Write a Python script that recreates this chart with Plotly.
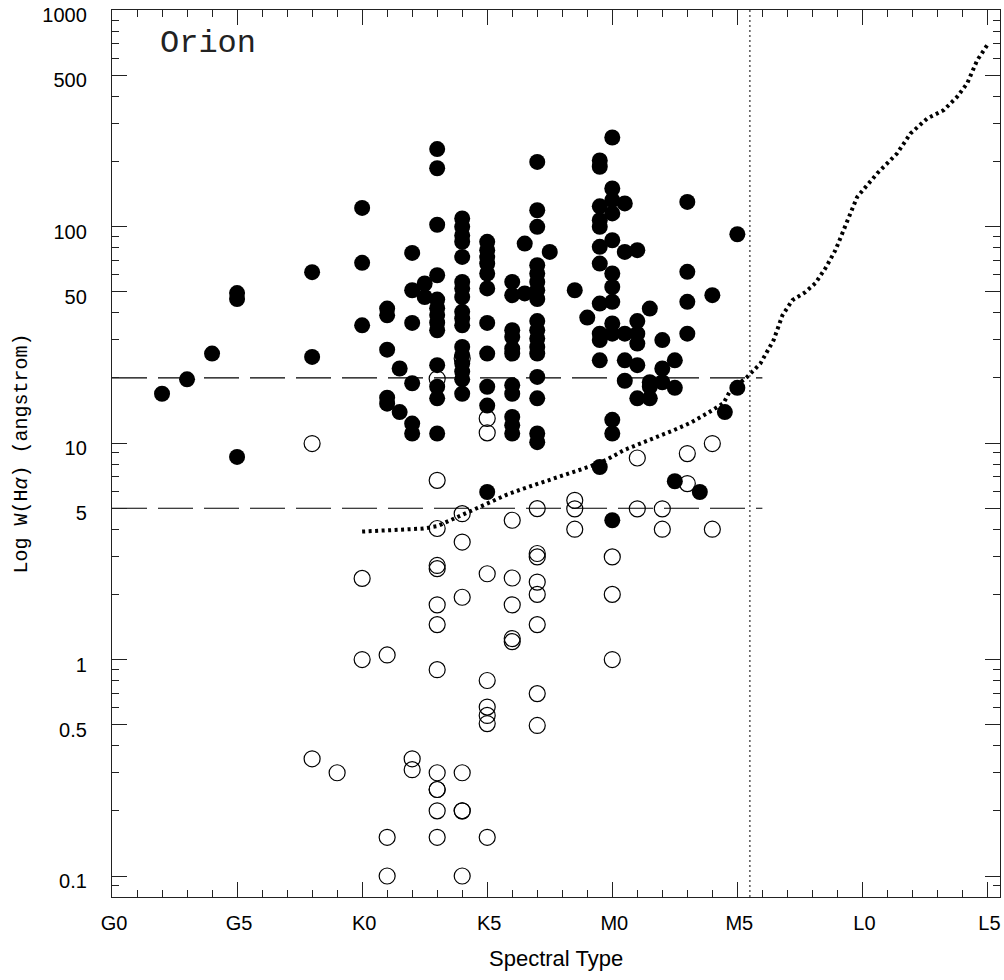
import plotly.graph_objects as go
import math

# ---------------- data ----------------
# spectral type as numeric subtype: G0=0, G5=5, K0=10, K5=15, M0=20, M5=25, L0=30, L5=35
tick_vals_x = [0, 5, 10, 15, 20, 25, 30, 35]
tick_text_x = ["G0", "G5", "K0", "K5", "M0", "M5", "L0", "L5"]

tick_vals_y = [0.1, 0.5, 1, 5, 10, 50, 100, 500, 1000]
tick_text_y = ["0.1", "0.5", "1", "5", "10", "50", "100", "500", "1000"]

# accreting (filled) stars: spectral subtype, W(Halpha)
filled_x = [2, 3, 4, 5, 5, 5, 8, 8,
            10, 10, 10,
            11, 11, 11, 11, 11,
            11.5, 11.5,
            12, 12, 12, 12, 12, 12,
            12.5, 12.5,
            13, 13, 13, 13, 13, 13, 13, 13, 13, 13, 13, 13, 13,
            14, 14, 14, 14, 14, 14, 14, 14, 14, 14, 14, 14, 14, 14, 14, 14, 14,
            15, 15, 15, 15, 15, 15, 15, 15, 15, 15, 15,
            16, 16, 16, 16, 16, 16, 16, 16, 16, 16, 16,
            16.5, 16.5,
            17, 17, 17, 17, 17, 17, 17, 17, 17, 17, 17, 17, 17, 17, 17, 17, 17,
            17.5, 18.5, 19,
            19.5, 19.5, 19.5, 19.5, 19.5, 19.5, 19.5, 19.5, 19.5, 19.5, 19.5, 19.5,
            20, 20, 20, 20, 20, 20, 20, 20, 20, 20, 20, 20, 20,
            20.5, 20.5, 20.5, 20.5, 20.5,
            21, 21, 21, 21, 21, 21,
            21.5, 21.5, 21.5, 21.5,
            22, 22, 22,
            22.5, 22.5, 22.5,
            23, 23, 23, 23,
            23.5, 24, 24.5, 25, 25]
filled_y = [16.9, 19.7, 25.9, 49.3, 46.3, 8.63, 61.6, 25.0,
            122, 68, 35,
            41.8, 38.9, 27.0, 16.2, 15.2,
            22.1, 13.9,
            75.6, 50.8, 35.9, 18.9, 12.3, 11.07,
            54.6, 47.3,
            228, 186, 102, 59.6, 46, 42, 39, 36, 33.2, 22.9, 18.2, 16.1, 11.07,
            109, 99.7, 91, 85, 72.4, 55.5, 51.8, 47.3, 40.4, 37.6, 35.0, 27.8, 25.5, 23.3, 21.4, 19.7, 16.9,
            85, 77.8, 72.4, 67.5, 60.7, 51.8, 35.9, 25.9, 18.2, 14.9, 5.94,
            55.5, 48.2, 33.2, 30.9, 27.3, 25.9, 18.5, 16.9, 13.2, 12.1, 11.07,
            83.5, 49.1,
            199, 119, 99.7, 66.3, 60.7, 55.5, 50.8, 46.3, 36.6, 33.2, 30.4, 27.8, 25.9, 20.2, 16.1, 11.07, 10.1,
            76.4, 50.8, 38.0,
            202, 189, 124, 107, 99.7, 80.6, 67.5, 44.1, 32.0, 29.9, 24.1, 7.75,
            258, 150, 132.5, 115, 86.5, 60.7, 52.6, 44.9, 35.7, 32.0, 12.8, 11.07, 4.40,
            128, 76.4, 32.0, 24.1, 19.4,
            77.8, 36.6, 32.0, 28.8, 22.9, 16.1,
            41.8, 19.1, 18.2, 16.1,
            29.9, 22.1, 19.1,
            24.1, 18.0, 6.66,
            130, 61.8, 44.9, 32.0,
            5.94, 48.2, 13.9, 92.2, 18.0]

# non-accreting (open) stars
open_x = [8, 8, 9,
          10, 10,
          11, 11, 11,
          12, 12,
          13, 13, 13, 13, 13, 13, 13, 13, 13, 13, 13, 13, 13,
          14, 14, 14, 14, 14, 14, 14, 14,
          15, 15, 15, 15, 15, 15, 15, 15,
          16, 16, 16, 16, 16,
          17, 17, 17, 17, 17, 17, 17, 17,
          18.5, 18.5, 18.5,
          20, 20, 20,
          21, 21,
          22, 22,
          23, 23,
          24, 24]
open_y = [9.95, 0.348, 0.30,
          2.37, 1.0,
          1.05, 0.151, 0.1,
          0.348, 0.31,
          19.8, 6.73, 4.03, 2.72, 2.63, 1.79, 1.45, 0.898, 0.30, 0.251, 0.251, 0.20, 0.151,
          24.6, 4.72, 3.49, 1.94, 0.30, 0.20, 0.20, 0.1,
          13.0, 11.15, 2.49, 0.80, 0.603, 0.552, 0.506, 0.151,
          4.40, 2.38, 1.79, 1.25, 1.21,
          4.98, 3.09, 2.98, 2.28, 2.0, 1.45, 0.696, 0.496,
          5.44, 4.97, 4.0,
          2.98, 2.0, 1.0,
          8.53, 4.97,
          4.97, 4.0,
          8.94, 6.50,
          9.95, 4.0]

# saturation / chromospheric criterion curve
curve_x = [10.0, 12.45, 13.0, 13.52, 14.45, 15.12, 15.79, 16.45, 17.12, 18.45,
           19.12, 19.79, 20.45, 21.12, 21.79, 22.45, 23.12, 23.79, 24.45, 24.72,
           25.39, 25.92, 26.45, 26.8, 27.2, 27.72, 28.12, 28.52, 28.92, 29.32,
           29.79, 30.59, 31.39, 31.92, 32.59, 33.25, 33.79, 34.19, 34.59, 34.99]
curve_y = [3.90, 4.03, 4.13, 4.40, 4.89, 5.34, 5.78, 6.16, 6.54, 7.35,
           7.81, 8.39, 9.26, 9.95, 10.67, 11.46, 12.4, 13.7, 15.3, 17.5,
           20.2, 23.3, 29.9, 38.9, 45.7, 49.8, 54.8, 64.2, 77.8, 101.5,
           137, 176, 218, 269, 316, 345, 398, 459, 587, 689]

threshold_levels = [20, 5]
threshold_x_extent = [0, 26]
boundary_type = 25.5

x_range = [0, 35.5]
y_range = [0.08, 1000]

# ---------------- figure ----------------
fig = go.Figure()

fig.add_trace(go.Scatter(x=curve_x, y=curve_y, mode="lines",
                         line=dict(color="black", width=4, dash="3px,3.5px"),
                         hoverinfo="skip", showlegend=False))

for lev in threshold_levels:
    fig.add_trace(go.Scatter(x=threshold_x_extent, y=[lev, lev], mode="lines",
                             line=dict(color="black", width=1.2, dash="35px,11px"),
                             hoverinfo="skip", showlegend=False))

fig.add_trace(go.Scatter(x=[boundary_type, boundary_type], y=y_range, mode="lines",
                         line=dict(color="#555555", width=1.5, dash="2px,3px"),
                         hoverinfo="skip", showlegend=False))

fig.add_trace(go.Scatter(x=open_x, y=open_y, mode="markers",
                         marker=dict(symbol="circle-open", size=16, color="black",
                                     line=dict(width=1.2, color="black")),
                         showlegend=False))

fig.add_trace(go.Scatter(x=filled_x, y=filled_y, mode="markers",
                         marker=dict(symbol="circle", size=16, color="black",
                                     line=dict(width=0)),
                         showlegend=False))

minor_x = [v for v in range(0, 36) if v % 5 != 0]
minor_y = []
for dec in [0.01, 0.1, 1, 10, 100]:
    for m in [2, 3, 4, 6, 7, 8, 9]:
        val = m * dec
        if y_range[0] <= val <= y_range[1]:
            minor_y.append(val)

axis_color = "#222222"
tick_font = dict(family="Liberation Sans, Arial, sans-serif", size=20, color="black")

fig.update_xaxes(range=x_range, tickmode="array", tickvals=tick_vals_x, ticktext=tick_text_x,
                 ticks="inside", ticklen=15, tickwidth=1.2, tickcolor=axis_color,
                 showline=True, linecolor=axis_color, linewidth=1.3, mirror="ticks",
                 showgrid=False, zeroline=False, tickfont=tick_font, ticklabelstandoff=8,
                 ticklabelshift=2,
                 ticklabeloverflow="allow", automargin=False,
                 minor=dict(tickmode="array", tickvals=minor_x, ticks="inside", ticklen=7,
                            tickwidth=1.2, tickcolor=axis_color, showgrid=False))

fig.update_yaxes(type="log", range=[math.log10(y_range[0]), math.log10(y_range[1]) + 0.0005],
                 tickmode="array", tickvals=tick_vals_y, ticktext=tick_text_y,
                 ticks="inside", ticklen=15, tickwidth=1.2, tickcolor=axis_color,
                 showline=True, linecolor=axis_color, linewidth=1.3, mirror="ticks",
                 showgrid=False, zeroline=False, tickfont=tick_font, ticklabelstandoff=20,
                 ticklabelshift=5,
                 ticklabeloverflow="allow", automargin=False,
                 minor=dict(tickmode="array", tickvals=minor_y, ticks="inside", ticklen=7,
                            tickwidth=1.2, tickcolor=axis_color, showgrid=False))

fig.update_layout(
    width=1004, height=980,
    margin=dict(l=112, r=4, t=10, b=83, autoexpand=False),
    plot_bgcolor="white", paper_bgcolor="white",
    showlegend=False,
    annotations=[
        dict(text="Orion", xref="paper", yref="paper", x=0.052, y=0.9617,
             xanchor="left", yanchor="middle", showarrow=False,
             font=dict(family="Liberation Mono, Courier New, monospace", size=32, color="#222222")),
        dict(text="Spectral Type", xref="paper", yref="paper", x=0.5, y=-0.0688,
             xanchor="center", yanchor="middle", showarrow=False,
             font=dict(family="Liberation Sans, Arial, sans-serif", size=22, color="black")),
        dict(text="Log W(H<i>α</i>) (angstrom)", xref="paper", yref="paper", x=-0.1014, y=0.5,
             xanchor="center", yanchor="middle", showarrow=False, textangle=-90,
             font=dict(family="Liberation Mono, Courier New, monospace", size=20, color="black")),
    ],
)

fig.write_html("out.html")
